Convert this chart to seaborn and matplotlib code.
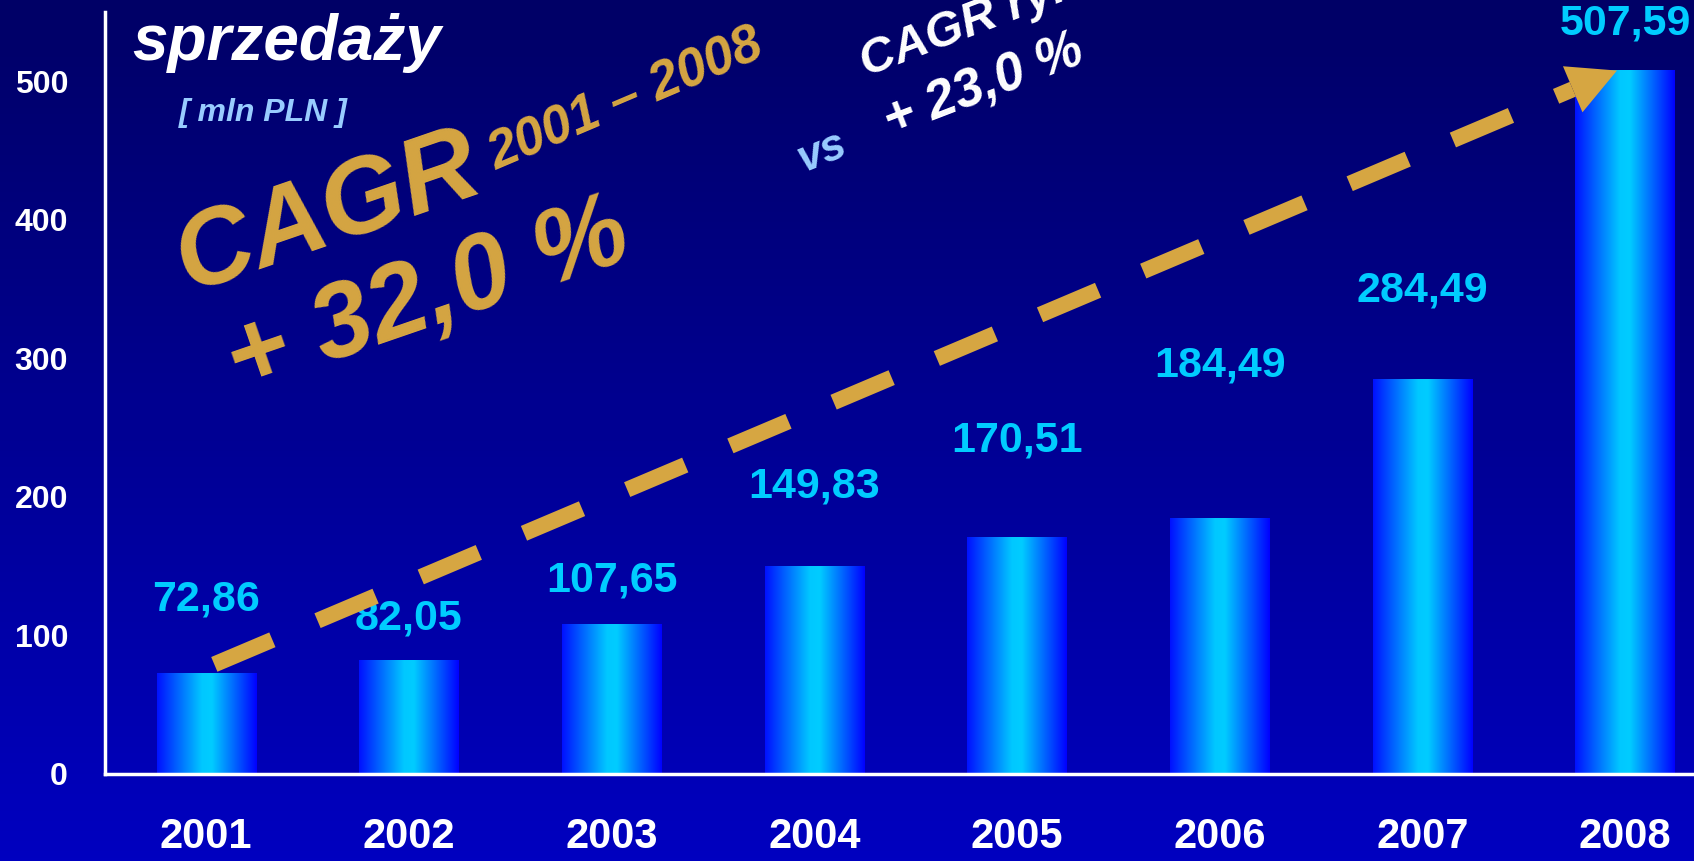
import numpy as np
import matplotlib.pyplot as plt
import seaborn as sns
from matplotlib.colors import LinearSegmentedColormap

years = ['2001', '2002', '2003', '2004', '2005', '2006', '2007', '2008']
sales = [72.86, 82.05, 107.65, 149.83, 170.51, 184.49, 284.49, 507.59]
value_labels = ['72,86', '82,05', '107,65', '149,83', '170,51', '184,49', '284,49', '507,59']
# baseline of each value label (in mln PLN units)
label_y = [117.6, 104.4, 131.3, 199.0, 232.2, 286.4, 341.2, 533.3]
yticks = [0, 100, 200, 300, 400, 500]

GOLD = '#D6A642'
CYAN = '#00CCFF'
LIGHT = '#99CCFF'
fam = ['Liberation Sans', 'DejaVu Sans']

sns.set_style('white')
plt.rcParams['font.family'] = fam
plt.rcParams['lines.scale_dashes'] = False

W, H = 1694, 861
fig = plt.figure(figsize=(W / 100, H / 100), dpi=100)

# background gradient
bg = fig.add_axes([0, 0, 1, 1], zorder=0)
bg_cmap = LinearSegmentedColormap.from_list('bg', ['#000066', '#0000C0'])
bg.imshow(np.linspace(0, 1, 256).reshape(-1, 1), cmap=bg_cmap, aspect='auto', extent=[0, 1, 0, 1])
bg.axis('off')

ax = fig.add_axes([0.0619, 0.1015, 0.9381, 0.8848], zorder=1)
ax.patch.set_alpha(0)

sns.barplot(x=years, y=sales, ax=ax, width=0.49, color='#0000FF', saturation=1)

# gradient fill for the bars
bar_cmap = LinearSegmentedColormap.from_list(
    'bar', [(0, '#0010FF'), (0.45, '#00C8FF'), (0.55, '#00CCFF'), (1, '#0000FF')])
grad = np.linspace(0, 1, 256).reshape(1, -1)
for p in list(ax.patches):
    x0, w, h = p.get_x(), p.get_width(), p.get_height()
    ax.imshow(grad, cmap=bar_cmap, extent=[x0, x0 + w, 0, h], aspect='auto', zorder=2)
    p.set_visible(False)

ax.set_xlim(-0.5, 7.34)
ax.set_ylim(0, 550)

for s in ['top', 'right']:
    ax.spines[s].set_visible(False)
for s in ['left', 'bottom']:
    ax.spines[s].set_color('white')
    ax.spines[s].set_linewidth(2.5)

ax.set_yticks(yticks)
ax.set_yticklabels([str(t) for t in yticks], color='white', fontsize=23, fontweight='bold')
ax.tick_params(axis='y', length=9.5, width=2.5, color='white', pad=17)

ax.set_xticks(range(len(years)))
ax.set_xticklabels(years, color='white', fontsize=30, fontweight='bold')
ax.set_xticks(np.arange(-0.5, len(years) - 1, 1), minor=True)
ax.tick_params(axis='x', which='major', length=0, pad=31)
ax.tick_params(axis='x', which='minor', length=11, width=2.5, color='white')
ax.set_xlabel('')
ax.set_ylabel('')
ax.grid(False)

for i, (lab, ly) in enumerate(zip(value_labels, label_y)):
    ax.text(i, ly, lab, ha='center', va='baseline', color=CYAN, fontsize=31,
            fontweight='bold', zorder=3)

# dashed growth arrow from the first to the last bar
start = ax.transData.transform((0.04, sales[0] + 6))
tip = ax.transData.transform((len(sales) - 1 - 0.04, sales[-1]))
u = (tip - start) / np.linalg.norm(tip - start)
head_len = 48
back = tip - u * head_len
inv = ax.transData.inverted()
(sx, sy), (bx, by) = inv.transform(np.vstack([start, back]))
tx, ty = inv.transform(tip)
ax.plot([sx, bx], [sy, by], color=GOLD, lw=11.5, dashes=(45.4, 35.3),
        dash_capstyle='butt', solid_capstyle='butt', zorder=4)
ax.annotate('', xy=(tx, ty), xytext=(bx, by),
            arrowprops=dict(arrowstyle='-|>,head_length=%.1f,head_width=%.1f' % (head_len / 1.389, 25 / 1.389),
                            mutation_scale=1, color=GOLD, lw=0, shrinkA=0, shrinkB=0),
            zorder=4)


def px(x, y):
    return x / W, 1 - y / H


fig.text(*px(132, 60), 'sprzedaży', color='white', fontsize=46, fontweight='bold',
         fontstyle='italic', ha='left', va='baseline')
fig.text(*px(263, 113), '[ mln PLN ]', color=LIGHT, fontsize=23, fontweight='bold',
         fontstyle='italic', ha='center', va='center')
fig.text(*px(328, 214), 'CAGR', color=GOLD, fontsize=77, fontweight='bold', fontstyle='italic',
         ha='center', va='center', rotation=19, rotation_mode='anchor')
fig.text(*px(626, 100), '2001 – 2008', color=GOLD, fontsize=38, fontweight='bold', fontstyle='italic',
         ha='center', va='center', rotation=23, rotation_mode='anchor')
fig.text(*px(428, 298), '+ 32,0 %', color=GOLD, fontsize=76, fontweight='bold', fontstyle='italic',
         ha='center', va='center', rotation=19, rotation_mode='anchor')
fig.text(*px(822, 152), 'vs', color=LIGHT, fontsize=32, fontweight='bold', fontstyle='italic',
         ha='center', va='center', rotation=22, rotation_mode='anchor')
fig.text(*px(866, 77), 'CAGR rynku', color='white', fontsize=35, fontweight='bold', fontstyle='italic',
         ha='left', va='baseline', rotation=21, rotation_mode='anchor')
fig.text(*px(984, 86), '+ 23,0 %', color='white', fontsize=38, fontweight='bold', fontstyle='italic',
         ha='center', va='center', rotation=21, rotation_mode='anchor')

fig.savefig('out.png', dpi=100)
